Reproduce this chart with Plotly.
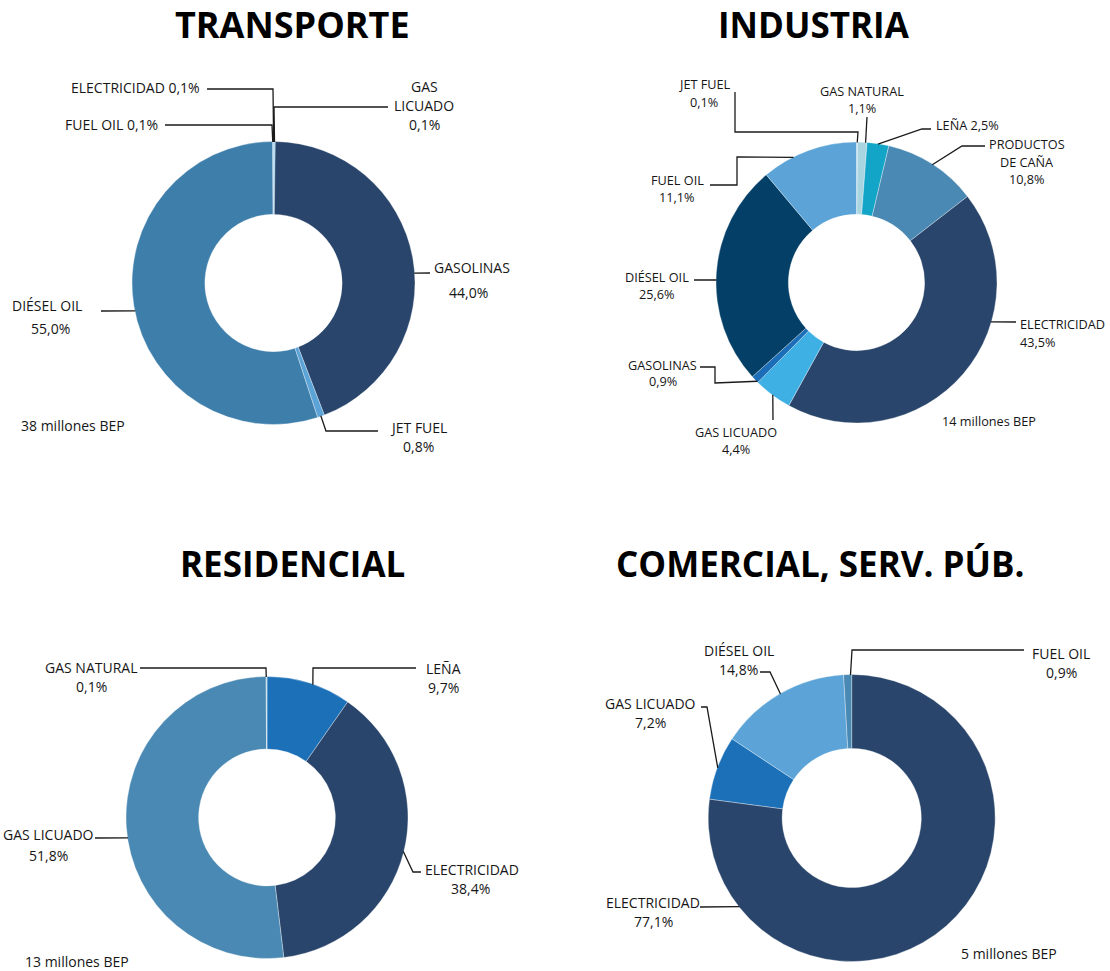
import math
import plotly.graph_objects as go

W, H = 1110, 971

# ---------------- data ----------------
transporte_labels = ["ELECTRICIDAD", "GAS LICUADO", "GASOLINAS", "JET FUEL", "DIÉSEL OIL", "FUEL OIL"]
transporte_values = [0.1, 0.1, 44.0, 0.8, 55.0, 0.1]
transporte_total = "38 millones BEP"

industria_labels = ["JET FUEL", "GAS NATURAL", "LEÑA", "PRODUCTOS DE CAÑA", "ELECTRICIDAD",
                    "GAS LICUADO", "GASOLINAS", "DIÉSEL OIL", "FUEL OIL"]
industria_values = [0.1, 1.1, 2.5, 10.8, 43.5, 4.4, 0.9, 25.6, 11.1]
industria_total = "14 millones BEP"

residencial_labels = ["LEÑA", "ELECTRICIDAD", "GAS LICUADO", "GAS NATURAL"]
residencial_values = [9.7, 38.4, 51.8, 0.1]
residencial_total = "13 millones BEP"

comercial_labels = ["ELECTRICIDAD", "GAS LICUADO", "DIÉSEL OIL", "FUEL OIL"]
comercial_values = [77.1, 7.2, 14.8, 0.9]
comercial_total = "5 millones BEP"

titles = ["TRANSPORTE", "INDUSTRIA", "RESIDENCIAL", "COMERCIAL, SERV. PÚB."]

# ---------------- styles ----------------
NAVY = "#29456b"
transporte_colors = ["#a9d5e1", "#3eb0e4", NAVY, "#5ca4d7", "#3d7eab", "#5ca4d7"]
industria_colors = ["#d6ecf2", "#a9d5e1", "#13a5c7", "#4a89b3", NAVY, "#3eb0e4", "#1b6eb7", "#043f67", "#5ca4d7"]
residencial_colors = ["#1c70b8", NAVY, "#4a89b3", "#a9d5e1"]
comercial_colors = [NAVY, "#1c70b8", "#5ca4d7", "#4a89b3"]

TEXT = "#161616"
LINE = "#1a1a1a"
FONT = "Open Sans"

charts = [
    dict(title=titles[0], labels=transporte_labels, values=transporte_values, colors=transporte_colors,
         total=transporte_total, cx=273.5, cy=283, r=141.5, title_xy=(292, 24), title_fs=36,
         total_xy=(19, 425), fs=14,
         leaders=[
             dict(i=0, fmt="inline", text=[(202, 87, "right")], path=[(207, 89), (273, 89)], mode="v"),
             dict(i=1, fmt=[1, 1], text=[(424, 86, "center"), (424, 105, "center"), (424, 124, "center")],
                  path=[(388, 107), (274, 107)], mode="v"),
             dict(i=5, fmt="inline", text=[(160, 124, "right")], path=[(165, 125), (272, 125)], mode="v"),
             dict(i=2, fmt=None, text=[(432, 268, "left"), (468, 292, "center")], path=[(430, 273)], mode="h"),
             dict(i=3, fmt=None, text=[(418, 427, "center"), (418, 447, "center")],
                  path=[(378, 431), (326, 431)], mode="mid"),
             dict(i=4, fmt=None, text=[(47, 306, "center"), (50, 328, "center")], path=[(101, 311)], mode="h"),
         ]),
    dict(title=titles[1], labels=industria_labels, values=industria_values, colors=industria_colors,
         total=industria_total, cx=856.5, cy=282.5, r=140.5, title_xy=(814, 24), title_fs=35,
         total_xy=(940, 421), fs=12.7,
         leaders=[
             dict(i=0, fmt=None, text=[(704, 84, "center"), (704, 102, "center")],
                  path=[(735, 92), (735, 132), (858, 132)], mode="v"),
             dict(i=1, fmt=None, text=[(862, 91, "center"), (862, 108, "center")], path=[(867, 117)], mode="v"),
             dict(i=2, fmt="inline", text=[(934, 125, "left")], path=[(931, 129), (922, 129)], mode="mid"),
             dict(i=3, fmt=[1, 2], text=[(1027, 144, "center"), (1027, 162, "center"), (1027, 179, "center")],
                  path=[(985, 146), (962, 146)], mode="mid"),
             dict(i=4, fmt=None, text=[(1018, 324, "left"), (1038, 342, "center")], path=[(1016, 322)], mode="h"),
             dict(i=5, fmt=None, text=[(736, 432, "center"), (736, 449, "center")], path=[(773, 420)], mode="mid"),
             dict(i=6, fmt=None, text=[(662, 365, "center"), (663, 381, "center")],
                  path=[(700, 367), (715, 367), (715, 383)], mode="h"),
             dict(i=7, fmt=None, text=[(657, 277, "center"), (657, 294, "center")], path=[(694, 280)], mode="h"),
             dict(i=8, fmt=None, text=[(677, 180, "center"), (677, 197, "center")],
                  path=[(710, 185), (737, 185), (737, 157)], mode="h"),
         ]),
    dict(title=titles[2], labels=residencial_labels, values=residencial_values, colors=residencial_colors,
         total=residencial_total, cx=267, cy=817.5, r=141, title_xy=(292, 563), title_fs=35,
         total_xy=(23, 961), fs=14,
         leaders=[
             dict(i=3, fmt=None, text=[(91, 667, "center"), (91, 686, "center")],
                  path=[(140, 668), (266, 668)], mode="v"),
             dict(i=0, fmt=None, text=[(443, 668, "center"), (443, 687, "center")],
                  path=[(416, 668), (313, 668)], mode="v"),
             dict(i=1, fmt=None, text=[(423, 869, "left"), (470, 888, "center")],
                  path=[(421, 872), (413, 872)], mode="mid"),
             dict(i=2, fmt=None, text=[(48, 834, "center"), (48, 855, "center")], path=[(95, 838)], mode="h"),
         ]),
    dict(title=titles[3], labels=comercial_labels, values=comercial_values, colors=comercial_colors,
         total=comercial_total, cx=851.7, cy=818, r=143.5, title_xy=(819.5, 563), title_fs=35,
         total_xy=(959, 953), fs=14,
         leaders=[
             dict(i=3, fmt=None, text=[(1061, 653, "center"), (1061, 672, "center")],
                  path=[(1024, 650), (852, 650)], mode="v"),
             dict(i=2, fmt=None, text=[(739, 650, "center"), (738, 669, "center")],
                  path=[(760, 672), (770, 672)], mode="mid"),
             dict(i=1, fmt=None, text=[(650, 703, "center"), (650, 722, "center")],
                  path=[(701, 707), (707, 707)], mode="mid"),
             dict(i=0, fmt=None, text=[(653, 902, "center"), (653, 921, "center")], path=[(700, 907)], mode="h"),
         ]),
]


def px(x):
    return x / W


def py(y):
    return 1 - y / H


def pct(v):
    return f"{v:.1f}".replace(".", ",") + "%"


def text_lines(name, p, fmt):
    if fmt == "inline":
        return [f"{name} {p}"]
    if fmt is None:
        return [name, p]
    words = name.split(" ")
    out, k = [], 0
    for n in fmt:
        out.append(" ".join(words[k:k + n]))
        k += n
    return out + [p]


def ang_dist(a, b):
    return abs((a - b + 180) % 360 - 180)


def clamp_angle(t, a0, a1):
    m = 0.15 * (a1 - a0)
    lo, hi = a0 + m, a1 - m
    t = t % 360
    if lo <= t <= hi:
        return t
    return lo if ang_dist(t, lo) <= ang_dist(t, hi) else hi


def slice_ranges(values):
    tot = sum(values)
    out, acc = [], 0.0
    for v in values:
        a0 = acc / tot * 360
        acc += v
        out.append((a0, acc / tot * 360))
    return out


def point_at(cx, cy, r, t):
    rad = math.radians(t)
    return cx + r * math.sin(rad), cy - r * math.cos(rad)


fig = go.Figure()
shapes, annotations = [], []

for ch in charts:
    cx, cy, r = ch["cx"], ch["cy"], ch["r"]
    fig.add_trace(go.Pie(
        labels=ch["labels"], values=ch["values"], hole=0.485, sort=False, direction="clockwise",
        rotation=0, textinfo="none", hoverinfo="label+percent",
        marker=dict(colors=ch["colors"], line=dict(color="rgba(255,255,255,0.55)", width=0.6)),
        domain=dict(x=[px(cx - r), px(cx + r)], y=[py(cy + r), py(cy - r)]),
        showlegend=False,
    ))
    ranges = slice_ranges(ch["values"])
    for ld in ch["leaders"]:
        i = ld["i"]
        a0, a1 = ranges[i]
        mid = (a0 + a1) / 2
        last = ld["path"][-1]
        if ld["mode"] == "mid":
            t = mid
        elif ld["mode"] == "h":
            c = max(-1, min(1, (cy - last[1]) / r))
            t = math.degrees(math.acos(c))
            if last[0] < cx:
                t = 360 - t
        else:
            s = max(-1, min(1, (last[0] - cx) / r))
            t = math.degrees(math.asin(s))
            if last[1] > cy:
                t = 180 - t
        t = clamp_angle(t, a0, a1)
        ax, ay = point_at(cx, cy, r - 0.5, t)
        pts = list(ld["path"]) + [(ax, ay)]
        d = "M " + " L ".join(f"{px(x):.5f},{py(y):.5f}" for x, y in pts)
        shapes.append(dict(type="path", path=d, xref="paper", yref="paper",
                           line=dict(color=LINE, width=1.3)))
        lines = text_lines(ch["labels"][i], pct(ch["values"][i]), ld["fmt"])
        for s, (tx, ty, anc) in zip(lines, ld["text"]):
            annotations.append(dict(text=s, x=px(tx), y=py(ty), xref="paper", yref="paper",
                                    xanchor=anc, yanchor="middle", showarrow=False,
                                    font=dict(family=FONT, size=ch["fs"], color=TEXT)))
    tx, ty = ch["title_xy"]
    annotations.append(dict(text=f"<b>{ch['title']}</b>", x=px(tx), y=py(ty), xref="paper", yref="paper",
                            xanchor="center", yanchor="middle", showarrow=False,
                            font=dict(family=FONT, size=ch["title_fs"], color="#000000")))
    bx, by = ch["total_xy"]
    annotations.append(dict(text=ch["total"], x=px(bx), y=py(by), xref="paper", yref="paper",
                            xanchor="left", yanchor="middle", showarrow=False,
                            font=dict(family=FONT, size=ch["fs"], color=TEXT)))

fig.update_layout(
    width=W, height=H, margin=dict(l=0, r=0, t=0, b=0),
    paper_bgcolor="white", plot_bgcolor="white",
    shapes=shapes, annotations=annotations,
)

fig.write_html("out.html", config={"displayModeBar": False},
               post_script="document.body.style.margin='0px';document.body.style.overflow='hidden';")
